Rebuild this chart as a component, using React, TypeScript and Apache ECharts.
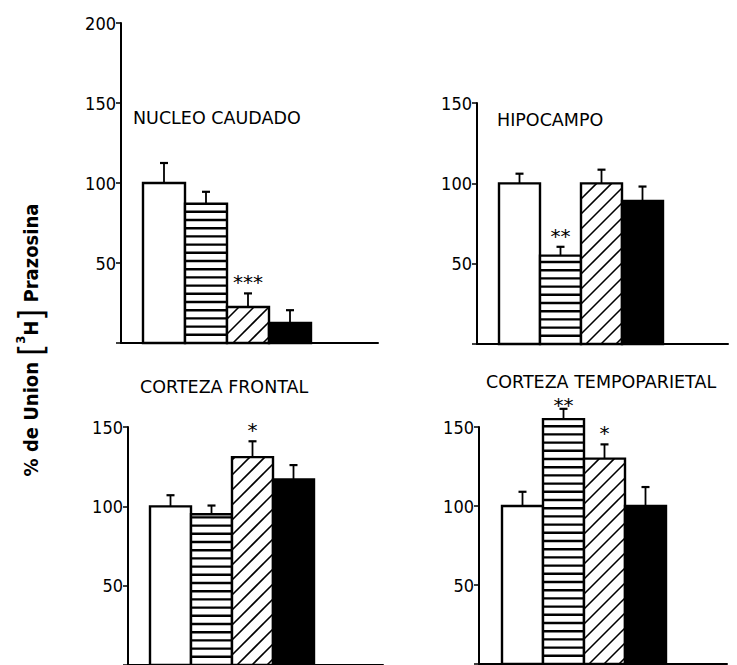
import React, { useEffect, useRef } from "react";
import * as echarts from "echarts";

// ---- data ----
const PANELS = ["NUCLEO CAUDADO", "HIPOCAMPO", "CORTEZA FRONTAL", "CORTEZA TEMPOPARIETAL"];
const GROUPS = ["Control", "Grupo A", "Grupo B", "Grupo C"];
const CONTROL = [100, 100, 100, 100];
const GROUP_A = [87, 55, 95, 155];
const GROUP_B = [22.5, 100, 131, 130];
const GROUP_C = [12.5, 89, 117, 100];
const CONTROL_SEM = [12.5, 6, 7, 9];
const GROUP_A_SEM = [7.5, 5.5, 5.5, 6.5];
const GROUP_B_SEM = [8.5, 8.5, 10, 9];
const GROUP_C_SEM = [8, 9, 9, 12];
const CONTROL_SIG = ["", "", "", ""];
const GROUP_A_SIG = ["", "**", "", "**"];
const GROUP_B_SIG = ["***", "", "*", "*"];
const GROUP_C_SIG = ["", "", "", ""];
const Y_MAX = [200, 150, 150, 150];
const Y_INTERVAL = 50;

const VALUES = [CONTROL, GROUP_A, GROUP_B, GROUP_C];
const SEMS = [CONTROL_SEM, GROUP_A_SEM, GROUP_B_SEM, GROUP_C_SEM];
const SIGS = [CONTROL_SIG, GROUP_A_SIG, GROUP_B_SIG, GROUP_C_SIG];

// ---- layout ----
const LAYOUT = [
  { left: 121, top: 23, width: 257, height: 320, bar: 42, lead: 22, tx: 133, ty: 118 },
  { left: 477, top: 103, width: 251, height: 241, bar: 41, lead: 22, tx: 497, ty: 120 },
  { left: 128, top: 427, width: 255, height: 239, bar: 41, lead: 22, tx: 140, ty: 387 },
  { left: 479, top: 427, width: 248, height: 237, bar: 41, lead: 23, tx: 486, ty: 382 },
];
const NUM_FONT = "'DejaVu Sans Condensed', 'Liberation Sans Narrow', sans-serif";
const TITLE_FONT = "'DejaVu Sans', sans-serif";
const TITLE_SIZE = 17.5;
const STAR_SIZE = 20;

function renderBar(params: any, api: any) {
  const lay = LAYOUT[params.seriesIndex];
  const x = api.value(0);
  const v = api.value(1);
  const e = api.value(2);
  const gi = api.value(3);
  const sig = api.value(4);
  const [cx, yTop] = api.coord([x, v]);
  const [, y0] = api.coord([x, 0]);
  const [, yErr] = api.coord([x, v + e]);
  const w = api.size([1, 0])[0];
  const L = cx - w / 2;
  const R = cx + w / 2;
  const T = yTop;
  const B = y0;
  const children: any[] = [];
  children.push({
    type: "rect",
    shape: { x: L, y: T, width: w, height: B - T },
    style: { fill: gi === 3 ? "#000" : "#fff", stroke: "#000", lineWidth: 2.4 },
  });
  if (gi === 1) {
    const s = 8.2;
    for (let y = B - s; y > T + 3; y -= s) {
      children.push({
        type: "line",
        shape: { x1: L, y1: y, x2: R, y2: y },
        style: { stroke: "#000", lineWidth: 2.4 },
      });
    }
  }
  if (gi === 2) {
    const s = 15;
    const h = B - T;
    for (let c = -w + 6; c < h; c += s) {
      const u1 = Math.max(0, -c);
      const u2 = Math.min(w, h - c);
      if (u2 - u1 > 1) {
        children.push({
          type: "line",
          shape: { x1: L + u1, y1: B - (u1 + c), x2: L + u2, y2: B - (u2 + c) },
          style: { stroke: "#000", lineWidth: 1.6 },
        });
      }
    }
  }
  // error bar
  children.push({
    type: "line",
    shape: { x1: cx, y1: T, x2: cx, y2: yErr },
    style: { stroke: "#000", lineWidth: 1.8 },
  });
  children.push({
    type: "line",
    shape: { x1: cx - 4, y1: yErr, x2: cx + 4, y2: yErr },
    style: { stroke: "#000", lineWidth: 2.2 },
  });
  if (sig) {
    const titleBottom = lay.ty + 0.64 * TITLE_SIZE + 1;
    const gc = Math.max(yErr - 14, titleBottom + 0.4 * STAR_SIZE);
    children.push({
      type: "text",
      x: cx,
      y: gc + 0.14 * STAR_SIZE,
      style: {
        text: sig,
        align: "center",
        verticalAlign: "middle",
        fontSize: STAR_SIZE,
        fontFamily: TITLE_FONT,
        fill: "#000",
      },
    });
  }
  return { type: "group", children };
}

export default function App() {
  const ref = useRef<HTMLDivElement>(null);
  useEffect(() => {
    const chart = echarts.init(ref.current!, null, { renderer: "svg" });
    const grid = LAYOUT.map((l) => ({ left: l.left, top: l.top, width: l.width, height: l.height, containLabel: false }));
    const xAxis = LAYOUT.map((l, i) => ({
      type: "value",
      gridIndex: i,
      min: 0,
      max: l.width / l.bar,
      axisLine: { show: true, onZero: false, lineStyle: { color: "#000", width: 2 } },
      axisTick: { show: false },
      axisLabel: { show: false },
      splitLine: { show: false },
    }));
    const yAxis = LAYOUT.map((l, i) => ({
      type: "value",
      gridIndex: i,
      min: 0,
      max: Y_MAX[i],
      interval: Y_INTERVAL,
      axisLine: { show: true, lineStyle: { color: "#000", width: 2 } },
      axisTick: { show: true, length: 5, lineStyle: { color: "#000", width: 1.5 } },
      axisLabel: {
        color: "#000",
        fontSize: 18,
        fontFamily: NUM_FONT,
        margin: 5,
        formatter: (v: number) => (v === 0 ? "" : String(v)),
      },
      splitLine: { show: false },
    }));
    const series = LAYOUT.map((l, i) => ({
      type: "custom",
      name: PANELS[i],
      xAxisIndex: i,
      yAxisIndex: i,
      clip: false,
      renderItem: renderBar,
      encode: { x: 0, y: 1 },
      data: GROUPS.map((g, gi) => [l.lead / l.bar + gi + 0.5, VALUES[gi][i], SEMS[gi][i], gi, SIGS[gi][i]]),
    }));
    const graphic: any[] = LAYOUT.map((l, i) => ({
      type: "text",
      x: l.tx,
      y: l.ty,
      style: {
        text: PANELS[i],
        fontSize: TITLE_SIZE,
        fontFamily: TITLE_FONT,
        fill: "#000",
        align: "left",
        verticalAlign: "middle",
      },
    }));
    graphic.push({
      type: "text",
      x: 31,
      y: 340,
      rotation: Math.PI / 2,
      style: {
        text: "{a|% de Union }{b|[}{c|3}{d|H}{b|]}{a| Prazosina}",
        align: "center",
        verticalAlign: "middle",
        fill: "#000",
        rich: {
          a: { fontSize: 20, fontWeight: "bold", fontFamily: NUM_FONT, fill: "#000" },
          b: { fontSize: 34, fontFamily: NUM_FONT, fill: "#000" },
          c: { fontSize: 13, fontWeight: "bold", fontFamily: NUM_FONT, fill: "#000", verticalAlign: "top" },
          d: { fontSize: 20, fontWeight: "bold", fontFamily: NUM_FONT, fill: "#000" },
        },
      },
    });
    chart.setOption({
      animation: false,
      backgroundColor: "#fff",
      grid,
      xAxis,
      yAxis,
      series,
      graphic,
    });
    return () => chart.dispose();
  }, []);
  return <div ref={ref} style={{ position: "fixed", left: 0, top: 0, width: 737, height: 665, background: "#fff" }} />;
}
